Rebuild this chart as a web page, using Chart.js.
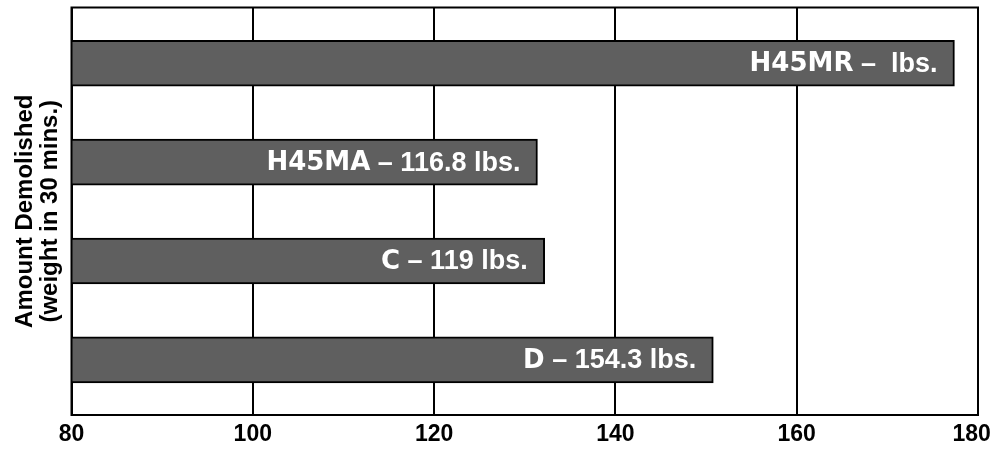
<!DOCTYPE html>
<html>
<head>
<meta charset="utf-8">
<script src="https://cdn.jsdelivr.net/npm/chart.js@4/dist/chart.umd.min.js"></script>
<style>
    body { margin: 0; background: #fff; }
    #wrap { width: 995px; height: 452px; position: relative; }
</style>
</head>
<body>
<div id="wrap"><canvas id="demoChart"></canvas></div>
<script>
// values (bar ends), labels as printed on the bars
const categories = ["H45MR", "H45MA", "C", "D"];
const barValues = [177.4, 131.4, 132.2, 150.8];
const labelSuffix = [" \u2013  lbs.", " \u2013 116.8 lbs.", " \u2013 119 lbs.", " \u2013 154.3 lbs."];
const xTicks = [80, 100, 120, 140, 160, 180];
const yTitle = ["Amount Demolished", "(weight in 30 mins.)"];

const barLabels = {
    id: "barLabels",
    afterDatasetsDraw(chart) {
        const ctx = chart.ctx;
        const meta = chart.getDatasetMeta(0);
        ctx.save();
        ctx.fillStyle = "#ffffff";
        ctx.textBaseline = "middle";
        meta.data.forEach(function (bar, i) {
            let x = bar.x - 17;
            ctx.font = "bold 27px 'Liberation Sans', Arial, sans-serif";
            ctx.textAlign = "right";
            ctx.fillText(labelSuffix[i], x, bar.y + 1);
            x -= ctx.measureText(labelSuffix[i]).width;
            ctx.font = "bold 26px 'DejaVu Sans', sans-serif";
            ctx.fillText(categories[i], x, bar.y + 1);
        });
        ctx.restore();
    }
};

const frame = {
    id: "frame",
    afterDraw(chart) {
        const a = chart.chartArea;
        const ctx = chart.ctx;
        ctx.save();
        ctx.strokeStyle = "#000";
        ctx.lineWidth = 2;
        ctx.strokeRect(a.left, a.top, a.right - a.left, a.bottom - a.top);
        ctx.restore();
    }
};

const ctx = document.getElementById("demoChart").getContext("2d");
new Chart(ctx, {
    type: "bar",
    data: {
        labels: categories,
        datasets: [{
            data: barValues.map((v, i) => ({ x: v, y: i })),
            backgroundColor: "#5f5f5f",
            borderColor: "#000",
            borderWidth: 2,
            borderSkipped: false,
            barThickness: 46
        }]
    },
    options: {
        indexAxis: "y",
        responsive: true,
        maintainAspectRatio: false,
        animation: false,
        layout: { padding: { top: 7.5, right: 17, left: 0, bottom: 0 } },
        plugins: {
            legend: { display: false },
            tooltip: { enabled: false }
        },
        scales: {
            x: {
                type: "linear",
                min: 80,
                max: 180,
                afterBuildTicks: function (axis) {
                    axis.ticks = xTicks.map(v => ({ value: v }));
                },
                afterFit: function (axis) {
                    axis.height = 37;
                    axis.paddingLeft = 0;
                    axis.paddingRight = 0;
                },
                grid: { color: "#000", lineWidth: 2, drawTicks: false },
                border: { color: "#000", width: 2 },
                ticks: {
                    color: "#000",
                    padding: 6,
                    maxRotation: 0,
                    // last label sits a little left of its line, as in the original
                    callback: v => (v === xTicks[xTicks.length - 1] ? v + "  " : v),
                    font: { family: "'Liberation Sans', Arial, sans-serif", size: 23, weight: "bold" }
                }
            },
            y: {
                type: "linear",
                reverse: true,
                offset: false,
                min: -0.564,
                max: 3.557,
                afterFit: function (axis) {
                    axis.width = 71.5;
                    axis.paddingTop = 0;
                    axis.paddingBottom = 0;
                },
                grid: { display: false, offset: false },
                border: { display: false },
                ticks: { display: false },
                title: {
                    display: true,
                    text: yTitle,
                    color: "#000",
                    padding: { top: 13, bottom: 0 },
                    font: { family: "'Liberation Sans', Arial, sans-serif", size: 24, weight: "bold", lineHeight: 1.05 }
                }
            }
        }
    },
    plugins: [barLabels, frame]
});
</script>
</body>
</html>
